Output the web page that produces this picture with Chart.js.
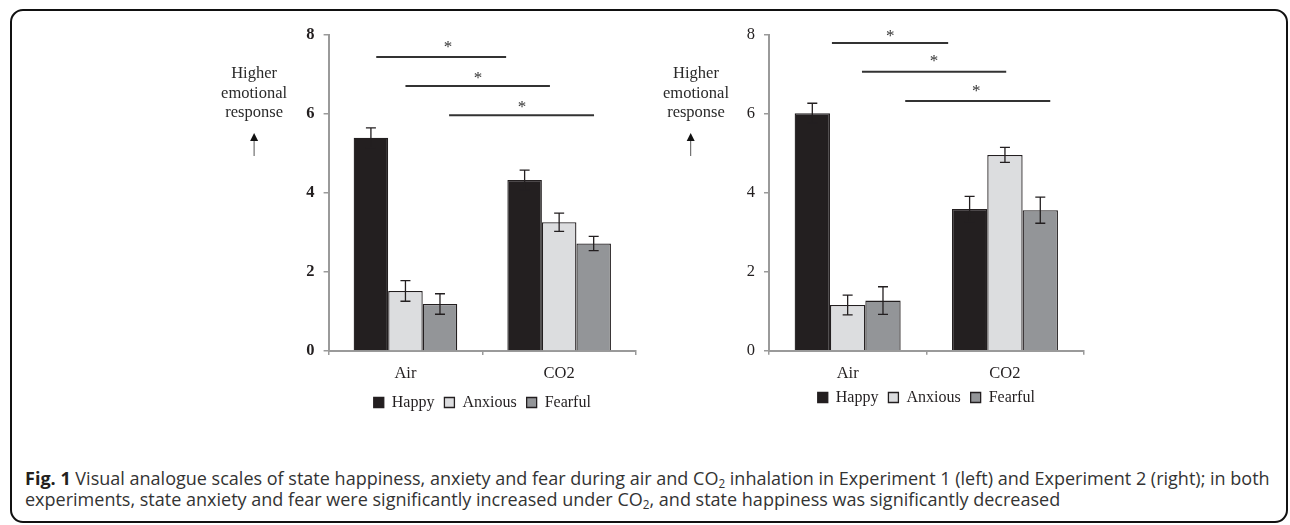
<!DOCTYPE html>
<html>
<head>
<meta charset="utf-8">
<script src="https://cdn.jsdelivr.net/npm/chart.js@4.4.1/dist/chart.umd.min.js"></script>
<style>
  html, body { margin: 0; padding: 0; background: #fff; }
  body { width: 1290px; height: 525px; position: relative; overflow: hidden; }
  #frame { position: absolute; left: 10px; top: 9px; width: 1278px; height: 514px; border: 2.5px solid #111; border-radius: 13px; box-sizing: border-box; }
  .box { position: absolute; top: 0; }
  #caption { position: absolute; left: 25px; top: 468px; font-family: 'Open Sans', sans-serif; font-size: 15px; line-height: 21px; color: #333; white-space: nowrap; }
  #caption b { color: #231f20; }
  #caption sub { font-size: 0.65em; line-height: 0; vertical-align: -0.25em; }
</style>
</head>
<body>
<div id="frame"></div>
<div class="box" style="left:150px"><canvas id="exp1" width="490" height="430"></canvas></div>
<div class="box" style="left:640px"><canvas id="exp2" width="470" height="430"></canvas></div>
<div id="caption"><span id="capLine1"><b>Fig. 1</b> Visual analogue scales of state happiness, anxiety and fear during air and CO<sub>2</sub> inhalation in Experiment 1 (left) and Experiment 2 (right); in both</span><br>experiments, state anxiety and fear were significantly increased under CO<sub>2</sub>, and state happiness was significantly decreased</div>
<script>
const categories = ['Air', 'CO2'];
const seriesNames = ['Happy', 'Anxious', 'Fearful'];
const yTicks = [0, 2, 4, 6, 8];
const sideLabel = ['Higher', 'emotional', 'response'];

// Experiment 1 (left panel)
const exp1Happy = [5.40, 4.33];
const exp1Anxious = [1.52, 3.26];
const exp1Fearful = [1.19, 2.72];
const exp1HappyErr = [0.25, 0.25];
const exp1AnxiousErr = [0.26, 0.23];
const exp1FearfulErr = [0.26, 0.18];
// significance lines, x in category units (0 = Air, 1 = CO2), y in scale units
const exp1SigFrom = [-0.19, 0.0, 0.284];
const exp1SigTo = [0.655, 0.94, 1.227];
const exp1SigLevel = [7.44, 6.71, 5.97];
const exp1StarX = [0.277, 0.472, 0.759];
const exp1StarLevel = [7.80, 7.01, 6.28];

// Experiment 2 (right panel)
const exp2Happy = [6.02, 3.59];
const exp2Anxious = [1.16, 4.96];
const exp2Fearful = [1.27, 3.56];
const exp2HappyErr = [0.25, 0.32];
const exp2AnxiousErr = [0.25, 0.19];
const exp2FearfulErr = [0.35, 0.33];
const exp2SigFrom = [-0.10, 0.091, 0.366];
const exp2SigTo = [0.639, 1.008, 1.288];
const exp2SigLevel = [7.80, 7.07, 6.33];
const exp2StarX = [0.271, 0.549, 0.818];
const exp2StarLevel = [8.08, 7.44, 6.67];

const colors = ['#231f20', '#dcdddf', '#939598'];
const ink = '#231f20';
const axisGrey = '#9a9a9a';
const serif = "'Liberation Serif', 'DejaVu Serif', serif";

// error bars, significance lines and the side label
const extras = {
  id: 'extras',
  afterDatasetsDraw(chart, args, opts) {
    const {ctx, chartArea} = chart;
    const x = chart.scales.x;
    const y = chart.scales.y;
    ctx.save();
    ctx.strokeStyle = ink;
    ctx.lineWidth = 1.3;
    chart.data.datasets.forEach((ds, di) => {
      chart.getDatasetMeta(di).data.forEach((bar, i) => {
        const v = ds.data[i];
        const e = opts.errors[di][i];
        const top = y.getPixelForValue(v + e);
        const bot = y.getPixelForValue(v - e);
        ctx.beginPath();
        ctx.moveTo(bar.x, top); ctx.lineTo(bar.x, bot);
        ctx.moveTo(bar.x - 5, top); ctx.lineTo(bar.x + 5, top);
        ctx.moveTo(bar.x - 5, bot); ctx.lineTo(bar.x + 5, bot);
        ctx.stroke();
      });
    });

    ctx.strokeStyle = '#333';
    ctx.lineWidth = 2;
    ctx.fillStyle = '#333';
    ctx.font = '17px ' + serif;
    ctx.textAlign = 'center';
    ctx.textBaseline = 'alphabetic';
    opts.sigFrom.forEach((f, k) => {
      const py = y.getPixelForValue(opts.sigLevel[k]);
      ctx.beginPath();
      ctx.moveTo(x.getPixelForValue(f), py);
      ctx.lineTo(x.getPixelForValue(opts.sigTo[k]), py);
      ctx.stroke();
      ctx.fillText('*', x.getPixelForValue(opts.starX[k]), y.getPixelForValue(opts.starLevel[k]) + 9);
    });

    // "Higher emotional response" with arrow
    const lx = chartArea.left - opts.labelOffset;
    ctx.font = '16.5px ' + serif;
    ctx.fillStyle = '#2a2a2a';
    ctx.textBaseline = 'middle';
    sideLabel.forEach((t, k) => ctx.fillText(t, lx, chartArea.top + 39 + k * 19.5));
    const ax = chartArea.left - opts.arrowOffset;
    ctx.strokeStyle = '#555';
    ctx.lineWidth = 1;
    ctx.beginPath();
    ctx.moveTo(ax, chartArea.top + 105);
    ctx.lineTo(ax, chartArea.top + 121);
    ctx.stroke();
    ctx.fillStyle = '#111';
    ctx.beginPath();
    ctx.moveTo(ax, chartArea.top + 98);
    ctx.lineTo(ax - 4, chartArea.top + 106);
    ctx.lineTo(ax + 4, chartArea.top + 106);
    ctx.closePath();
    ctx.fill();
    ctx.restore();
  }
};

function makePanel(id, values, errors, sig, layout) {
  const datasets = seriesNames.map((name, i) => ({
    label: name,
    data: values[i],
    backgroundColor: colors[i],
    borderColor: ink,
    borderWidth: 1.3,
    categoryPercentage: 0.674,
    barPercentage: 1.0
  }));
  return new Chart(document.getElementById(id), {
    type: 'bar',
    data: { labels: categories, datasets },
    plugins: [extras],
    options: {
      responsive: false,
      animation: false,
      events: [],
      layout: { padding: layout.padding },
      scales: {
        x: {
          grid: { drawOnChartArea: false, offset: true, tickLength: 4, color: axisGrey, lineWidth: 1.5 },
          border: { color: axisGrey, width: 2 },
          ticks: { color: ink, padding: 9, font: { family: serif, size: 16.5 } },
          afterFit: s => { s.height = layout.xHeight; }
        },
        y: {
          min: 0,
          max: 8,
          afterBuildTicks: s => { s.ticks = yTicks.map(v => ({ value: v })); },
          grid: { drawOnChartArea: false, tickLength: 5, color: axisGrey, lineWidth: 1.5 },
          border: { color: axisGrey, width: 2 },
          ticks: { color: ink, padding: 9, font: { family: serif, size: 16.5, weight: layout.tickWeight } },
          afterFit: s => { s.width = layout.yWidth; }
        }
      },
      plugins: {
        tooltip: { enabled: false },
        legend: {
          position: 'bottom',
          fullSize: false,
          labels: { boxWidth: 10, boxHeight: 10, padding: 10, color: ink, font: { family: serif, size: 16 } }
        },
        extras: {
          errors,
          sigFrom: sig[0], sigTo: sig[1], sigLevel: sig[2], starX: sig[3], starLevel: sig[4],
          labelOffset: layout.labelOffset,
          arrowOffset: layout.arrowOffset
        }
      }
    }
  });
}

// size the caption so its first line spans the figure width
function fitCaption() {
  const w = document.getElementById('capLine1').getBoundingClientRect().width;
  document.getElementById('caption').style.fontSize = (15 * 1245 / w).toFixed(2) + 'px';
}

fitCaption();

makePanel('exp1',
  [exp1Happy, exp1Anxious, exp1Fearful],
  [exp1HappyErr, exp1AnxiousErr, exp1FearfulErr],
  [exp1SigFrom, exp1SigTo, exp1SigLevel, exp1StarX, exp1StarLevel],
  { padding: { top: 35, left: 0, right: 4, bottom: 9.5 }, yWidth: 178.6, xHeight: 33.5, tickWeight: 'bold', labelOffset: 74.5, arrowOffset: 74.5 });

makePanel('exp2',
  [exp2Happy, exp2Anxious, exp2Fearful],
  [exp2HappyErr, exp2AnxiousErr, exp2FearfulErr],
  [exp2SigFrom, exp2SigTo, exp2SigLevel, exp2StarX, exp2StarLevel],
  { padding: { top: 35, left: 0, right: 26.4, bottom: 14.5 }, yWidth: 129, xHeight: 28.8, tickWeight: 'normal', labelOffset: 73, arrowOffset: 78.3 });
</script>
</body>
</html>
